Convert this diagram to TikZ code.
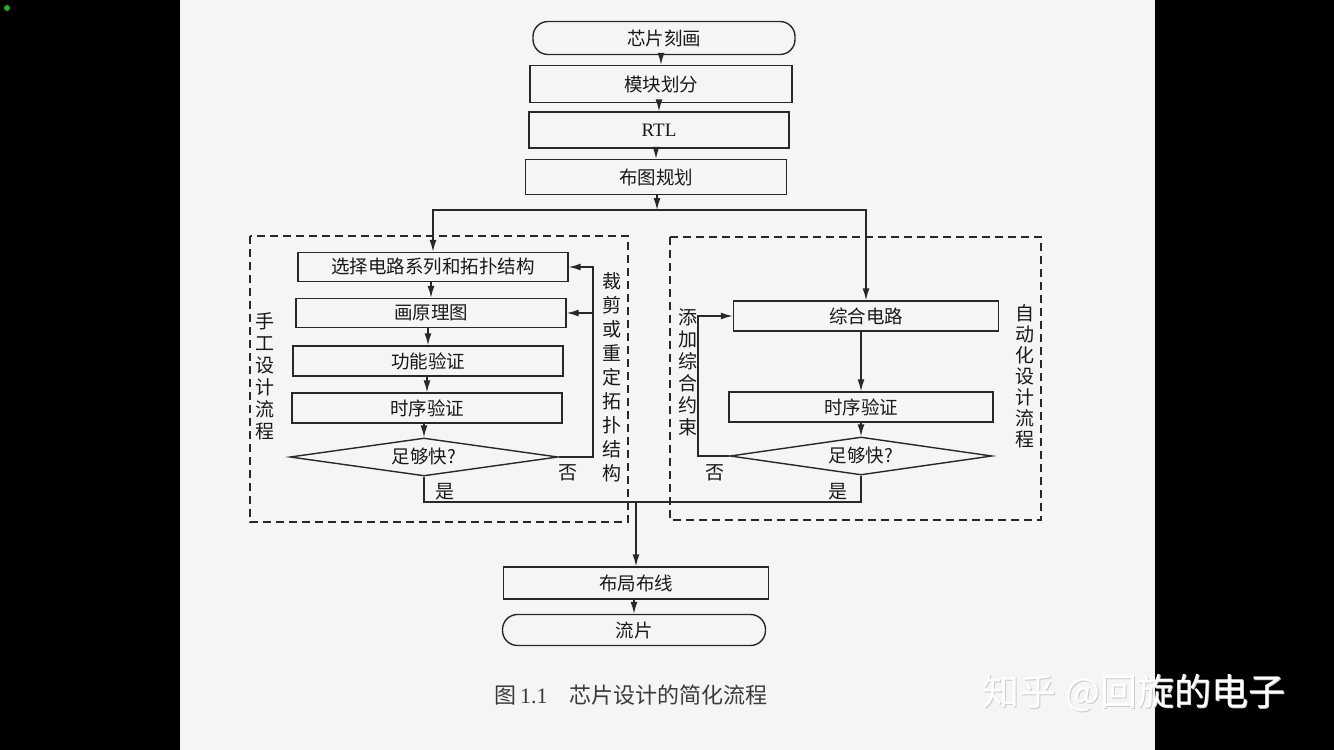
\documentclass[tikz,border=0pt]{standalone}
\usepackage{fontspec}
\setmainfont{Liberation Serif}
\newfontfamily\cjk{Noto Sans CJK SC}
\usetikzlibrary{shapes.geometric,arrows.meta}
\definecolor{pagec}{RGB}{245,245,244}
\definecolor{linec}{RGB}{40,40,40}
\definecolor{textc}{RGB}{25,25,25}
\definecolor{dotc}{RGB}{40,170,40}
\begin{document}
\begin{tikzpicture}[x=1pt,y=-1pt,
  line/.style={draw=linec, line width=1.4pt},
  arr/.style={line, -{Latex[length=12pt,width=7pt]}},
  box/.style={line, rectangle, inner sep=0pt, text=textc, font={\cjk\fontsize{18.5}{20}\selectfont}},
  term/.style={box, rounded corners=15pt},
  dia/.style={box, diamond, aspect=7},
  frame/.style={draw=linec, line width=1.3pt, dash pattern=on 8pt off 5pt},
  lbl/.style={text=textc, inner sep=0pt, font={\cjk\fontsize{19}{22}\selectfont}, align=center},
]
\useasboundingbox (0,0) rectangle (1334,750);
\fill[black] (0,0) rectangle (1334,750);
\fill[pagec] (180,0) rectangle (1155,750);
\fill[dotc] (7,8) circle (3);

% frames
\draw[frame] (250,236) rectangle (628,522);
\draw[frame] (670,237) rectangle (1041,520);

% main column
\node[term, minimum width=262, minimum height=33] (t1) at (664,38) {芯片刻画};
\node[box, minimum width=262, minimum height=37] (b1) at (661,84) {模块划分};
\node[box, minimum width=260, minimum height=36, font={\fontsize{19}{20}\selectfont}] (b2) at (659,130) {RTL};
\node[box, minimum width=261, minimum height=35] (b3) at (656,177) {布图规划};
\coordinate (j) at (657,210);

% manual flow
\node[box, minimum width=270, minimum height=29] (s1) at (433,267) {选择电路系列和拓扑结构};
\node[box, minimum width=270, minimum height=29] (s2) at (431,313) {画原理图};
\node[box, minimum width=270, minimum height=30] (s3) at (428,361) {功能验证};
\node[box, minimum width=270, minimum height=30] (s4) at (427,408) {时序验证};
\node[dia, minimum width=268, minimum height=38] (d1) at (424,457) {足够快?};
\coordinate (lx) at (593,0);
\node[lbl] (m1) at (265,376) {手\\工\\设\\计\\流\\程};
\node[lbl, font={\cjk\fontsize{19}{24}\selectfont}] (m2) at (612,377) {裁\\剪\\或\\重\\定\\拓\\扑\\结\\构};
\node[lbl] (n1) at (568,473) {否};
\node[lbl] (y1) at (445,492) {是};

% automatic flow
\node[box, minimum width=265, minimum height=30] (r1) at (866,316) {综合电路};
\node[box, minimum width=264, minimum height=30] (r2) at (861,407) {时序验证};
\node[dia, minimum width=262, minimum height=38] (d2) at (861,456) {足够快?};
\coordinate (rx) at (698,0);
\node[lbl] (a1) at (688,372) {添\\加\\综\\合\\约\\束};
\node[lbl, font={\cjk\fontsize{19}{21}\selectfont}] (a2) at (1025,376) {自\\动\\化\\设\\计\\流\\程};
\node[lbl] (n2) at (715,473) {否};
\node[lbl] (y2) at (838,492) {是};

% bottom
\coordinate (m) at (636,502);
\node[box, minimum width=265, minimum height=32] (p1) at (636,583) {布局布线};
\node[term, minimum width=263, minimum height=31] (p2) at (634,630) {流片};
\node[text=textc!85, inner sep=0pt] (cap) at (631,695) {\fontsize{22}{24}\selectfont{\cjk 图}\,1.1{\cjk 　芯片设计的简化流程}};

% watermark
\node[text=gray!40, inner sep=0pt, font={\cjk\fontsize{37}{40}\selectfont}] (wms) at (1135,694) {知乎 @回旋的电子};
\node[text=white, inner sep=0pt, font={\cjk\fontsize{37}{40}\selectfont}] (wm) at (1134,693) {知乎 @回旋的电子};

% connectors
\draw[arr] (b1.north |- t1.south) -- (b1.north);
\draw[arr] (b2.north |- b1.south) -- (b2.north);
\draw[arr] (b3.north |- b2.south) -- (b3.north);
\draw[arr] (b3.south -| j) -- (j);
\draw[arr] (j) -| (s1.north);
\draw[arr] (j) -| (r1.north);

\draw[arr] (s2.north |- s1.south) -- (s2.north);
\draw[arr] (s3.north |- s2.south) -- (s3.north);
\draw[arr] (s4.north |- s3.south) -- (s4.north);
\draw[arr] (d1.north |- s4.south) -- (d1.north);
\draw[arr] (d1.east) -- (d1.east -| lx) |- (s1.east);
\draw[arr] (s2.east -| lx) -- (s2.east);

\draw[arr] (r2.north |- r1.south) -- (r2.north);
\draw[arr] (d2.north |- r2.south) -- (d2.north);
\draw[arr] (d2.west) -- (d2.west -| rx) |- (r1.west);

\draw[line] (d1.south) |- (m);
\draw[line] (d2.south) |- (m);
\draw[arr] (m) -- (p1.north);
\draw[arr] (p2.north |- p1.south) -- (p2.north);
\end{tikzpicture}
\end{document}
